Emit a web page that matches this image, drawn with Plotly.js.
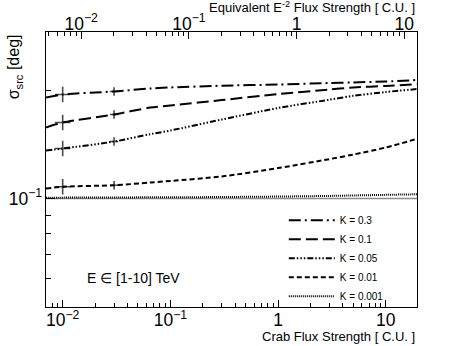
<!DOCTYPE html>
<html>
<head>
<meta charset="utf-8">
<script src="https://cdn.plot.ly/plotly-3.0.1.min.js"></script>
<style>
  html, body { margin: 0; padding: 0; background: #fff; }
  #myGraph { width: 463px; height: 346px; }
</style>
</head>
<body>
<div id="myGraph"></div>
<script>
// crab flux strength [C.U.] (bottom axis)
var xFlux = [0.007, 0.01, 0.03, 0.065, 0.1, 0.3, 1, 3, 5, 10, 20];

// sigma_src [deg] per K
var k03   = [0.1908, 0.1945, 0.1983, 0.2021, 0.2034, 0.2057, 0.2073, 0.2093, 0.2101, 0.2113, 0.2135];
var k01   = [0.1575, 0.1626, 0.1712, 0.1789, 0.1813, 0.1877, 0.1950, 0.2008, 0.2034, 0.2054, 0.2077];
var k005  = [0.1359, 0.1377, 0.1440, 0.1509, 0.1545, 0.1657, 0.1784, 0.1881, 0.1928, 0.1976, 0.2015];
var k001  = [0.1066, 0.1078, 0.1089, 0.1108, 0.1119, 0.1152, 0.1215, 0.1287, 0.1325, 0.1386, 0.1468];
var k0001 = [0.1005, 0.1006, 0.1007, 0.1008, 0.1008, 0.1010, 0.1013, 0.1017, 0.1020, 0.1024, 0.1028];

var kNames = ['K = 0.3', 'K = 0.1', 'K = 0.05', 'K = 0.01', 'K = 0.001'];
var refSigma = 0.1;      // grey reference line
var e2Factor = 1.486;    // crab -> equivalent E^-2 flux
var markIdx = [1, 2];    // points drawn with error crosses (0.01, 0.03 C.U.)

var series = [k03, k01, k005, k001, k0001];
var dashes = [
    '12px,4px,2px,4px',
    '12px,5px',
    '6px,2px,1.5px,2px,1.5px,2px,1.5px,2px',
    '5px,3px',
    '1px,1px'
];

var FONT = 'Liberation Sans, Arial, sans-serif';
var data = [];

// 곡선
for (var i = 0; i < series.length; i++) {
    data.push({
        x: xFlux,
        y: series[i],
        name: kNames[i],
        type: 'scatter',
        mode: 'lines',
        line: { color: 'black', width: 2, dash: dashes[i], shape: 'spline', smoothing: 0.8 },
        hoverinfo: 'skip'
    });
}

// 십자 마커
for (var i = 0; i < series.length - 1; i++) {
    data.push({
        x: markIdx.map(function (j) { return xFlux[j]; }),
        y: markIdx.map(function (j) { return series[i][j]; }),
        type: 'scatter',
        mode: 'markers',
        showlegend: false,
        marker: { symbol: 'cross-thin', size: [11, 6], color: 'black', line: { color: 'black', width: 1.6 } },
        hoverinfo: 'skip'
    });
}

// 위쪽 축(E^-2 환산)이 그려지도록 투명 trace
data.push({
    x: xFlux.map(function (v) { return v / e2Factor; }),
    y: k0001,
    xaxis: 'x2',
    yaxis: 'y',
    type: 'scatter',
    mode: 'lines',
    opacity: 0,
    showlegend: false,
    hoverinfo: 'skip'
});

var lx0 = Math.log10(0.007), lx1 = Math.log10(19.5);

var layout = {
    width: 463,
    height: 346,
    margin: { l: 46, r: 46, t: 32, b: 39 },
    paper_bgcolor: 'white',
    plot_bgcolor: 'white',
    font: { family: FONT, size: 14, color: 'black' },
    showlegend: true,
    legend: {
        x: 0.641, y: 0.368, xanchor: 'left', yanchor: 'top',
        bgcolor: 'rgba(0,0,0,0)',
        itemwidth: 46,
        font: { family: FONT, size: 10, color: 'black' },
        tracegroupgap: 0
    },
    xaxis: {
        type: 'log',
        range: [lx0, lx1],
        dtick: 1,
        exponentformat: 'power',
        ticks: 'inside', ticklen: 7, tickwidth: 1, tickcolor: 'black',
        minor: { ticks: 'inside', ticklen: 4, dtick: 'D1', tickcolor: 'black' },
        showline: true, linecolor: 'black', linewidth: 1,
        showgrid: false, zeroline: false,
        ticklabelstandoff: -2,
        tickfont: { family: FONT, size: 14 }
    },
    xaxis2: {
        type: 'log',
        overlaying: 'x',
        side: 'top',
        anchor: 'y',
        range: [lx0 - Math.log10(e2Factor), lx1 - Math.log10(e2Factor)],
        dtick: 1,
        exponentformat: 'power',
        ticks: 'inside', ticklen: 7, tickwidth: 1, tickcolor: 'black',
        minor: { ticks: 'inside', ticklen: 4, dtick: 'D1', tickcolor: 'black' },
        showline: true, linecolor: 'black', linewidth: 1,
        showgrid: false, zeroline: false,
        ticklabelstandoff: -5,
        tickfont: { family: FONT, size: 14 }
    },
    yaxis: {
        type: 'log',
        range: [Math.log10(0.05), Math.log10(0.29)],
        dtick: 1,
        exponentformat: 'power',
        ticks: 'inside', ticklen: 9, tickwidth: 1, tickcolor: 'black',
        minor: { ticks: 'inside', ticklen: 5, dtick: 'D1', tickcolor: 'black' },
        showline: true, mirror: true, linecolor: 'black', linewidth: 1,
        showgrid: false, zeroline: false,
        tickfont: { family: FONT, size: 14 }
    },
    shapes: [{
        type: 'line', xref: 'paper', yref: 'y',
        x0: 0, x1: 1, y0: refSigma, y1: refSigma,
        line: { color: '#8c8c8c', width: 1.5 },
        layer: 'below'
    }],
    annotations: [
        {
            text: 'Crab Flux Strength [ C.U. ]',
            xref: 'paper', yref: 'paper', x: 1, y: -0.106,
            xanchor: 'right', yanchor: 'middle', showarrow: false,
            font: { family: FONT, size: 13 }
        },
        {
            text: 'Equivalent E<sup>-2</sup> Flux Strength [ C.U. ]',
            xref: 'paper', yref: 'paper', x: 1, y: 1.09,
            xanchor: 'right', yanchor: 'middle', showarrow: false,
            font: { family: FONT, size: 13 }
        },
        {
            text: '\u03c3<sub>src</sub> [deg]',
            xref: 'paper', yref: 'paper', x: -0.084, y: 1.0,
            xanchor: 'center', yanchor: 'top', textangle: -90, showarrow: false,
            font: { family: FONT, size: 16 }
        },
        {
            text: 'E \u2208 [1-10] TeV',
            xref: 'paper', yref: 'paper', x: 0.105, y: 0.105,
            xanchor: 'left', yanchor: 'middle', showarrow: false,
            font: { family: FONT, size: 14 }
        }
    ]
};

var config = { displayModeBar: false, responsive: false, staticPlot: true };

Plotly.newPlot('myGraph', data, layout, config);
</script>
</body>
</html>
